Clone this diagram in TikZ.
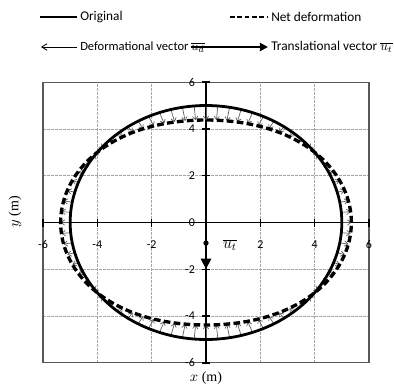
\documentclass[tikz,border=0pt]{standalone}
\usepackage{fontspec}
\setmainfont{Liberation Serif}
\setsansfont{Carlito}
\usetikzlibrary{arrows.meta}
\begin{document}
\begin{tikzpicture}[x=0.75pt,y=-0.75pt,
  lbl/.style={font=\sffamily\fontsize{10}{12}\selectfont, inner sep=0pt},
  ticklbl/.style={font=\sffamily\fontsize{9}{11}\selectfont, inner sep=0pt},
  axlbl/.style={font=\fontsize{10.5}{12}\selectfont, inner sep=0pt},
  gridline/.style={gray!70, line width=0.5pt, dash pattern=on 2pt off 1pt},
  framebox/.style={black!65, line width=0.8pt},
  axisline/.style={black, line width=1.3pt},
  tickmark/.style={black, line width=1.1pt},
  origcurve/.style={black, line width=2.1pt},
  netcurve/.style={black, line width=2.5pt, dash pattern=on 5pt off 2.5pt},
  vecarrow/.style={black!65, line width=0.5pt, -{Straight Barb[length=2.6pt,width=4pt]}},
  transarrow/.style={black, line width=2.2pt, -{Triangle[length=8pt,width=7.5pt]}}
]
\useasboundingbox (0,0) rectangle (394,387);
% legend
\coordinate (l1a) at (40,17); \coordinate (l1b) at (77,17);
\draw[line width=1.4pt] (l1a) -- (l1b);
\node[lbl, anchor=west] (t1) at (80,17) {Original};
\coordinate (l2a) at (230,17); \coordinate (l2b) at (267,17);
\draw[line width=1.4pt, dash pattern=on 3.5pt off 2pt] (l2a) -- (l2b);
\node[lbl, anchor=west] (t2) at (271,17) {Net deformation};
\coordinate (l3a) at (77,47); \coordinate (l3b) at (41,47);
\draw[line width=0.6pt, -{Straight Barb[length=4pt,width=5pt]}] (l3a) -- (l3b);
\node[lbl, anchor=west, font=\sffamily\fontsize{9.4}{12}\selectfont] (t3) at (80,47) {Deformational vector $\overline{u_d}$};
\coordinate (l4a) at (191,47); \coordinate (l4b) at (268,47);
\draw[line width=2pt, -{Triangle[length=6pt,width=6pt]}] (l4a) -- (l4b);
\node[lbl, anchor=west] (t4) at (271,47) {Translational vector $\overline{u_t}$};
% axis titles
\node[axlbl, rotate=90] (ylab) at (15,212) {$y$ (m)};
\node[axlbl] (xlab) at (206,378) {$x$ (m)};
% plot
\begin{scope}[shift={(154.5pt,-166.875pt)}, x=20.378pt, y=17.55pt]
  \foreach \g in {-4,-2,2,4} {
    \draw[gridline] (\g,-6) -- (\g,6);
    \draw[gridline] (-6,\g) -- (6,\g);
  }
  \draw[framebox] (-6,-6) rectangle (6,6);
  \draw[axisline] (-6,0) -- (6,0);
  \draw[axisline] (0,-6) -- (0,6);
  \foreach \t in {-6,-4,-2,2,4,6} {
    \draw[tickmark] (\t,0) ++(0,-3pt) -- ++(0,6pt);
    \draw[tickmark] (0,\t) ++(-3pt,0) -- ++(6pt,0);
    \node[ticklbl] (xt\t) at (\t,-0.94) {\t};
    \node[ticklbl, anchor=east] (yt\t) at (-0.4,\t) {\t};
  }
  \node[ticklbl, anchor=east] (yt0) at (-0.4,0) {0};
  % deformation vectors
  \foreach \a in {0,5,...,355} {
    \pgfmathsetmacro\rr{4.865+0.485*cos(2*\a)}
    \draw[vecarrow] ({5*cos(\a)},{5*sin(\a)}) -- ({\rr*cos(\a)},{\rr*sin(\a)});
  }
  % original and net deformation
  \draw[origcurve] plot[domain=0:360, samples=145] ({5*cos(\x)},{5*sin(\x)}) -- cycle;
  \draw[netcurve] plot[domain=0:360, samples=181]
    ({(4.865+0.485*cos(2*\x))*cos(\x)},{(4.865+0.485*cos(2*\x))*sin(\x)}) -- cycle;
  % translational vector
  \coordinate (O) at (0,0);
  \coordinate (T) at (0,-2);
  \draw[transarrow] (O) -- (T);
  \fill (0,-0.88) circle[radius=2pt];
  \node[axlbl, font=\fontsize{12}{14}\selectfont] (ut) at (0.88,-0.96) {$\overline{u_t}$};
\end{scope}
\end{tikzpicture}
\end{document}
